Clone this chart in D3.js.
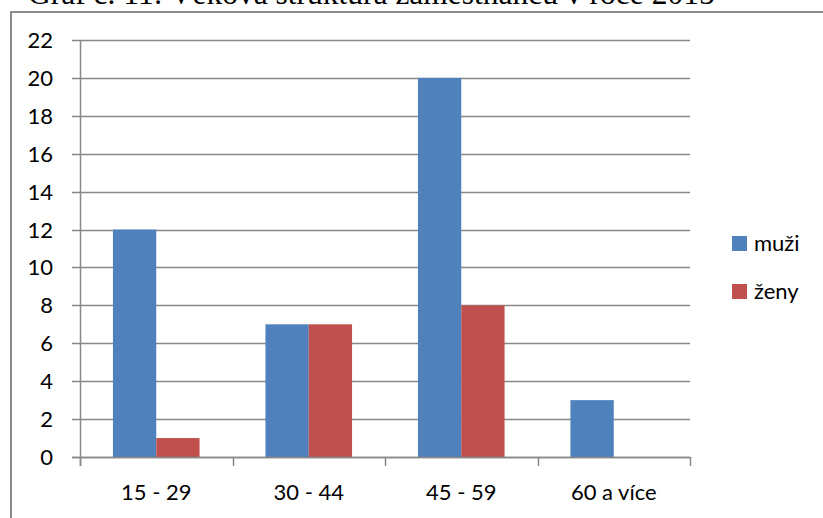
<!DOCTYPE html>
<html>
<head>
<meta charset="utf-8">
<script src="https://cdn.jsdelivr.net/npm/d3@7"></script>
<style>
  html, body { margin: 0; padding: 0; background: #fff; overflow: hidden; }
  svg { display: block; }
</style>
</head>
<body>
<svg id="chart" width="823" height="518"></svg>
<script>
// Věková struktura zaměstnanců v roce 2015
const categories = ["15 - 29", "30 - 44", "45 - 59", "60 a více"];
const seriesNames = ["muži", "ženy"];
const muzi = [12, 7, 20, 3];
const zeny = [1, 7, 8, 0];
const yTicks = [0, 2, 4, 6, 8, 10, 12, 14, 16, 18, 20, 22];
const colors = ["#4F81BD", "#C0504D"];

const svg = d3.select("#chart");
const font = "Lato, 'Open Sans', sans-serif";
const fontSize = 22;
const gridColor = "#888888";

// caption above the chart frame
svg.append("text")
  .attr("x", 28).attr("y", 4)
  .attr("font-family", "'Liberation Serif', 'Times New Roman', serif")
  .attr("font-size", 31.5)
  .attr("fill", "#000")
  .text("Graf č. 11: Věková struktura zaměstnanců v roce 2015");

// chart frame
svg.append("path")
  .attr("d", "M11,530 L11,12 L830,12")
  .attr("fill", "none")
  .attr("stroke", "#8c8c8c")
  .attr("stroke-width", 2);

const plot = { left: 80, right: 690, top: 40, bottom: 457 };

const x = d3.scaleBand().domain(categories).range([plot.left, plot.right]);
const y = d3.scaleLinear().domain([0, 22]).range([plot.bottom, plot.top]);
const groupWidth = x.bandwidth() * 0.568;
const xs = d3.scaleBand().domain(seriesNames).range([0, groupWidth]);

// horizontal gridlines with left tick marks
svg.append("g").selectAll("line")
  .data(yTicks)
  .join("line")
  .attr("x1", plot.left - 8).attr("x2", plot.right)
  .attr("y1", d => Math.round(y(d)) + 0.5).attr("y2", d => Math.round(y(d)) + 0.5)
  .attr("stroke", gridColor).attr("stroke-width", 1.5);

// y tick labels
svg.append("g").selectAll("text")
  .data(yTicks)
  .join("text")
  .attr("x", 53).attr("y", d => y(d) + 8)
  .attr("text-anchor", "end")
  .attr("font-family", font).attr("font-size", fontSize)
  .attr("fill", "#000")
  .text(d => d);

// bars
const data = categories.map((c, i) => ({ cat: c, values: [muzi[i], zeny[i]] }));
const groups = svg.append("g").selectAll("g")
  .data(data)
  .join("g")
  .attr("transform", d => `translate(${x(d.cat) + (x.bandwidth() - groupWidth) / 2},0)`);
groups.selectAll("rect")
  .data(d => d.values.map((v, j) => ({ name: seriesNames[j], v, j })))
  .join("rect")
  .attr("x", d => xs(d.name))
  .attr("width", xs.bandwidth())
  .attr("y", d => y(d.v))
  .attr("height", d => plot.bottom - y(d.v))
  .attr("fill", d => colors[d.j]);

// axes lines
svg.append("line")
  .attr("x1", plot.left + 0.5).attr("x2", plot.left + 0.5)
  .attr("y1", plot.top).attr("y2", plot.bottom + 9)
  .attr("stroke", gridColor).attr("stroke-width", 1.5);
svg.append("line")
  .attr("x1", plot.left - 8).attr("x2", plot.right)
  .attr("y1", plot.bottom + 0.5).attr("y2", plot.bottom + 0.5)
  .attr("stroke", gridColor).attr("stroke-width", 1.5);

// category separator ticks
const sepX = categories.map(c => x(c)).concat([plot.right]);
svg.append("g").selectAll("line")
  .data(sepX)
  .join("line")
  .attr("x1", d => Math.round(d) + 0.5).attr("x2", d => Math.round(d) + 0.5)
  .attr("y1", plot.bottom).attr("y2", plot.bottom + 9)
  .attr("stroke", gridColor).attr("stroke-width", 1.5);

// category labels
svg.append("g").selectAll("text")
  .data(categories)
  .join("text")
  .attr("x", d => x(d) + x.bandwidth() / 2)
  .attr("y", 500)
  .attr("text-anchor", "middle")
  .attr("font-family", font).attr("font-size", fontSize)
  .attr("fill", "#000")
  .text(d => d);

// legend
const legend = svg.append("g").selectAll("g")
  .data(seriesNames)
  .join("g")
  .attr("transform", (d, i) => `translate(732,${236 + i * 48})`);
legend.append("rect")
  .attr("width", 15).attr("height", 15)
  .attr("fill", (d, i) => colors[i]);
legend.append("text")
  .attr("x", 22).attr("y", 15)
  .attr("font-family", font).attr("font-size", fontSize)
  .attr("fill", "#000")
  .text(d => d);
</script>
</body>
</html>
